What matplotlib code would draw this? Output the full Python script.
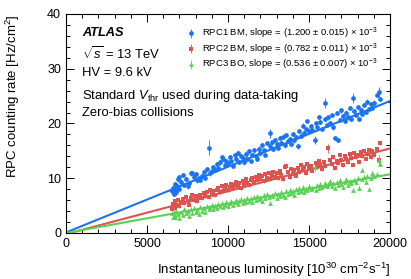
import numpy as np
import matplotlib
matplotlib.use('Agg')
import matplotlib.pyplot as plt
from matplotlib.ticker import MultipleLocator

plt.rcParams['font.family'] = ['Liberation Sans', 'DejaVu Sans']
plt.rcParams['mathtext.fontset'] = 'custom'
plt.rcParams['mathtext.rm'] = 'Liberation Sans'
plt.rcParams['mathtext.it'] = 'Liberation Sans:italic'

# RPC1 BM (blue)
bm1_x = [6550, 6600, 6650, 6700, 6750, 6800, 6850, 6900, 6950, 7000, 7100, 7200, 7300, 7400, 7500,
         7600, 7700, 7800, 7900, 8000, 8100, 8200, 8300, 8400, 8500, 8600, 8700, 8850, 8900, 9000,
         9100, 9200, 9300, 9400, 9500, 9600, 9700, 9800, 9900, 10000, 10100, 10200, 10300, 10400,
         10500, 10600, 10700, 10800, 10900, 11000, 11100, 11200, 11300, 11400, 11500, 11600, 11700,
         11800, 11900, 12000, 12100, 12200, 12300, 12400, 12570, 12600, 12700, 12800, 12900, 13000,
         13100, 13200, 13300, 13400, 13500, 13600, 13700, 13800, 13900, 14000, 14100, 14200, 14300,
         14400, 14500, 14600, 14700, 14800, 14900, 15000, 15100, 15200, 15360, 15400, 15500, 15600,
         15700, 15800, 15975, 16000, 16100, 16200, 16300, 16400, 16500, 16600, 16700, 16800, 16900,
         17000, 17100, 17200, 17300, 17400, 17500, 17600, 17730, 17800, 17900, 18000, 18100, 18200,
         18300, 18400, 18500, 18600, 18700, 18800, 18900, 19000, 19175, 19300, 19400]
bm1_y = [7.6, 8.3, 7.2, 8.9, 7.9, 7.4, 8.6, 9.8, 8.0, 10.2, 9.4, 10.6, 8.8, 9.9, 8.5,
         9.2, 10.9, 11.0, 10.3, 10.8, 9.6, 10.1, 9.7, 10.4, 11.2, 10.0, 11.6, 15.6, 10.9, 11.4,
         12.0, 11.5, 12.6, 11.8, 12.9, 13.9, 13.6, 12.4, 13.2, 12.7, 13.8, 13.1, 12.2, 14.2,
         13.5, 14.6, 13.0, 14.1, 13.7, 12.9, 14.5, 13.6, 14.9, 13.2, 14.3, 15.1, 14.0,
         13.5, 15.4, 14.6, 16.0, 15.2, 14.2, 16.4, 18.2, 15.8, 16.6, 15.4, 17.0, 16.2,
         15.6, 17.3, 16.5, 17.6, 16.0, 17.9, 16.8, 17.2, 16.3, 18.1, 16.9, 17.5, 15.8,
         18.6, 17.8, 19.6, 18.3, 19.0, 20.4, 18.7, 19.5, 18.9, 17.0, 20.1, 19.4, 21.2,
         20.3, 19.0, 23.7, 20.8, 19.7, 21.1, 20.0, 21.5, 19.3, 17.3, 21.9, 17.0, 20.6,
         22.4, 21.3, 20.5, 22.0, 21.1, 22.8, 20.9, 24.6, 22.3, 21.6, 23.0, 20.8, 22.5,
         21.7, 23.4, 22.1, 24.0, 22.7, 23.6, 22.9, 23.8, 25.2, 25.7, 24.5]

# RPC2 BM (red)
bm2_x = [6550, 6600, 6650, 6700, 6750, 6800, 6900, 7000, 7100, 7200, 7300, 7400, 7500, 7600, 7700,
         7800, 7900, 8000, 8100, 8200, 8300, 8400, 8500, 8600, 8700, 8800, 8900, 9000, 9100, 9200,
         9300, 9400, 9500, 9600, 9700, 9800, 9900, 10000, 10100, 10200, 10300, 10400, 10500, 10600,
         10700, 10800, 10900, 11000, 11100, 11200, 11300, 11400, 11500, 11600, 11700, 11800, 11900,
         12000, 12100, 12200, 12300, 12400, 12500, 12600, 12700, 12800, 12900, 13000, 13100, 13200,
         13300, 13400, 13500, 13600, 13700, 13800, 13900, 14000, 14100, 14200, 14300, 14400, 14500,
         14600, 14700, 14800, 14900, 15000, 15100, 15200, 15400, 15500, 15600, 15700, 15800, 15900,
         16000, 16180, 16300, 16400, 16500, 16600, 16700, 16800, 16900, 17000, 17100, 17200, 17300,
         17400, 17500, 17600, 17700, 17800, 17900, 18000, 18100, 18200, 18300, 18400, 18500, 18600,
         18700, 18800, 18900, 19000, 19200, 19300, 19380]
bm2_y = [4.4, 5.3, 4.8, 5.8, 4.6, 5.1, 6.0, 5.0, 5.6, 6.2, 5.4, 6.6, 5.9, 5.2, 6.4,
         6.9, 6.1, 6.7, 5.8, 6.5, 7.0, 6.3, 7.3, 6.8, 7.5, 6.6, 7.9, 7.1, 7.6, 6.9,
         7.8, 8.2, 7.4, 8.5, 7.7, 8.1, 8.8, 7.9, 8.4, 9.0, 8.3, 8.7, 9.3, 8.6,
         9.1, 8.2, 9.5, 8.9, 9.8, 9.2, 8.8, 9.6, 10.0, 9.4, 10.3, 9.7, 10.6,
         9.9, 10.4, 9.5, 10.8, 10.1, 11.0, 9.8, 10.5, 11.2, 10.2, 10.9, 10.0, 11.4,
         10.6, 9.9, 12.0, 12.2, 11.1, 10.3, 11.7, 10.8, 11.5, 10.5, 11.9, 11.2, 12.4,
         11.6, 12.1, 10.9, 12.6, 11.8, 12.3, 11.4, 12.8, 12.0, 13.2, 12.5, 11.7, 13.0,
         12.2, 15.5, 13.4, 12.6, 13.8, 11.9, 13.1, 12.8, 14.2, 13.3, 12.4, 14.0, 13.6,
         12.9, 14.4, 13.7, 12.5, 14.6, 13.9, 14.2, 13.0, 14.8, 14.1, 15.0, 13.6, 14.5,
         15.2, 13.8, 14.9, 14.3, 15.4, 13.3, 16.5]

# RPC3 BO (green)
bo3_x = [6550, 6600, 6650, 6700, 6750, 6800, 6900, 7000, 7100, 7200, 7300, 7400, 7500, 7600, 7700,
         7800, 7900, 8000, 8100, 8200, 8300, 8400, 8500, 8600, 8700, 8800, 8900, 9000, 9100, 9200,
         9300, 9400, 9500, 9600, 9700, 9800, 9900, 10000, 10100, 10200, 10300, 10400, 10500, 10600,
         10700, 10800, 10900, 11000, 11100, 11200, 11300, 11400, 11500, 11600, 11700, 11800, 11900,
         12000, 12100, 12200, 12300, 12400, 12500, 12600, 12700, 12800, 12900, 13000, 13100, 13200,
         13300, 13400, 13500, 13600, 13700, 13800, 13900, 14000, 14100, 14200, 14300, 14400, 14500,
         14600, 14700, 14800, 14900, 15000, 15100, 15200, 15360, 15400, 15500, 15600, 15700, 15800,
         15900, 16000, 16100, 16200, 16300, 16400, 16500, 16600, 16700, 16800, 16900, 17000, 17100,
         17200, 17300, 17400, 17500, 17600, 17700, 17800, 17900, 18000, 18100, 18250, 18300, 18400,
         18500, 18600, 18700, 18800, 18900, 19000, 19200, 19300, 19400]
bo3_y = [3.6, 2.9, 3.9, 3.3, 3.0, 4.1, 3.5, 2.8, 3.8, 3.2, 4.3, 3.6, 4.0, 3.1, 4.4,
         3.7, 4.6, 3.9, 4.2, 3.4, 4.8, 4.1, 4.5, 3.8, 4.9, 4.3, 4.7, 5.1, 4.4, 5.0,
         4.6, 5.3, 4.9, 5.5, 4.8, 5.2, 5.7, 5.0, 5.4, 5.8, 5.1, 5.6, 6.0, 5.3,
         5.9, 6.2, 5.5, 6.1, 5.7, 6.4, 5.9, 6.3, 5.6, 6.6, 6.0, 6.8, 6.2,
         6.5, 5.8, 6.9, 6.3, 7.1, 6.6, 5.4, 7.0, 6.7, 7.3, 6.4, 7.2, 6.8,
         7.5, 7.0, 6.5, 7.7, 7.1, 7.9, 7.3, 7.6, 6.9, 8.0, 7.4, 8.2, 7.7,
         8.4, 7.5, 8.1, 7.8, 8.6, 8.0, 8.3, 12.1, 7.9, 8.7, 8.2, 9.0, 8.4,
         8.8, 9.2, 8.5, 8.9, 9.5, 8.6, 9.1, 8.3, 9.4, 8.8, 9.6, 9.0, 8.4,
         9.3, 9.8, 8.7, 9.5, 9.1, 7.9, 9.7, 9.3, 10.0, 8.2, 11.5, 9.9, 10.3,
         9.4, 10.5, 8.0, 10.1, 11.0, 10.4, 10.8, 13.3, 12.6]

# fit results
slopes = [1.200e-3, 0.782e-3, 0.536e-3]
offsets = [0.1, -0.2, 0.0]
errs = [0.4, 0.35, 0.3]
big_err = {8850: 1.4, 12570: 0.8, 15975: 0.9, 17730: 0.9, 16180: 0.8, 15360: 0.8, 19300: 0.9}

labels = [r'RPC1 BM, slope = (1.200 $\pm$ 0.015) $\times$ 10$^{-3}$',
          r'RPC2 BM, slope = (0.782 $\pm$ 0.011) $\times$ 10$^{-3}$',
          r'RPC3 BO, slope = (0.536 $\pm$ 0.007) $\times$ 10$^{-3}$']
colors = ['#1a74f2', '#dc5450', '#58d154']
markers = ['o', 's', '^']

fig = plt.figure(figsize=(4.11, 2.79), dpi=100)
ax = fig.add_axes([0.1606, 0.1649, 0.7884, 0.785])

series = [(bm1_x, bm1_y), (bm2_x, bm2_y), (bo3_x, bo3_y)]
handles = []
for (xs, ys), slope, off, e, col, mk, lab in zip(series, slopes, offsets, errs, colors, markers, labels):
    xs = np.array(xs)
    ys = np.array(ys)
    yerr = np.array([big_err.get(x, e) for x in xs])
    h = ax.errorbar(xs, ys, yerr=yerr, fmt=mk, color=col, ms=3.4, mew=0,
                    elinewidth=0.6, capsize=0, label=lab, zorder=3)
    handles.append(h)
    lx = np.array([0, 19950])
    ax.plot(lx, slope * lx + off, color=col, lw=1.5, zorder=2)

ax.set_xlim(0, 20000)
ax.set_ylim(0, 40)
ax.xaxis.set_major_locator(MultipleLocator(5000))
ax.xaxis.set_minor_locator(MultipleLocator(1000))
ax.yaxis.set_major_locator(MultipleLocator(10))
ax.yaxis.set_minor_locator(MultipleLocator(2))
ax.tick_params(which='both', direction='in', top=True, right=True, labelsize=9, width=0.7)
ax.tick_params(which='major', length=6)
ax.tick_params(which='minor', length=3)
for s in ax.spines.values():
    s.set_linewidth(0.8)

ax.set_xlabel(r'Instantaneous luminosity [10$^{30}$ cm$^{-2}$s$^{-1}$]', fontsize=9.5,
              loc='right', labelpad=8)
ax.set_ylabel(r'RPC counting rate [Hz/cm$^{2}$]', fontsize=9.5, loc='top', labelpad=18)

ax.text(0.05, 0.915, 'ATLAS', transform=ax.transAxes, fontsize=9.2, fontweight='bold',
        fontstyle='italic', va='center')
ax.text(0.05, 0.82, r'$\sqrt{s}$ = 13 TeV', transform=ax.transAxes, fontsize=9.4, va='center')
ax.text(0.05, 0.73, 'HV = 9.6 kV', transform=ax.transAxes, fontsize=9.4, va='center')
ax.text(0.05, 0.625, r'Standard $V_{\mathrm{thr}}$ used during data-taking', transform=ax.transAxes,
        fontsize=9.4, va='center')
ax.text(0.05, 0.55, 'Zero-bias collisions', transform=ax.transAxes, fontsize=9.4, va='center')

ax.legend(handles=handles, loc='upper left', bbox_to_anchor=(0.355, 0.975), frameon=False,
          fontsize=6.8, handlelength=0.7, handletextpad=0.8, labelspacing=0.02, borderpad=0.2)

fig.savefig('out.png', dpi=100)
